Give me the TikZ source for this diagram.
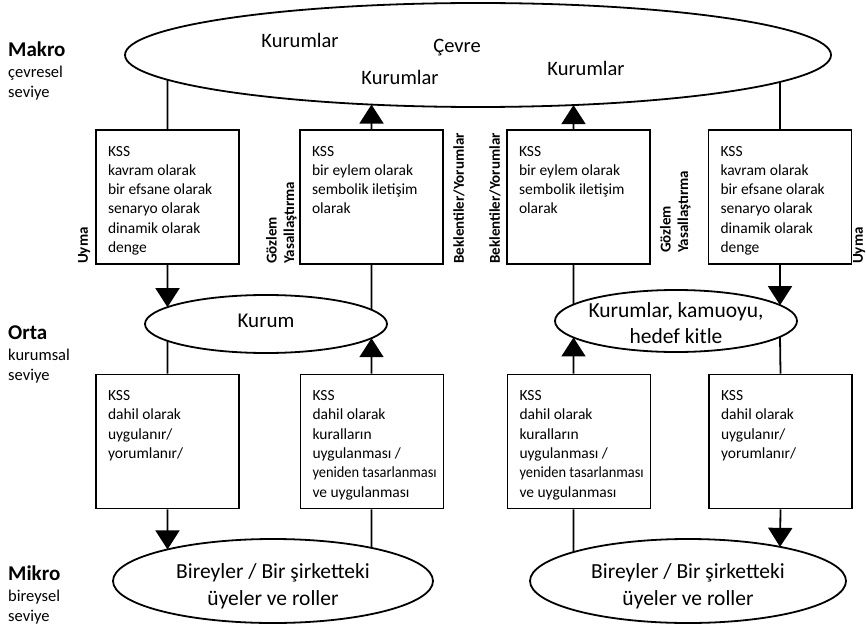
\documentclass[tikz,border=0pt]{standalone}
\usepackage{fontspec}
\setmainfont{Carlito}
\usepackage{graphicx}
\usetikzlibrary{shapes.geometric,arrows.meta,intersections,calc}
\newcommand\boxtxt[1]{\hspace*{12pt}\parbox[c][134pt][t]{131pt}{\vspace*{16pt}\raggedright #1}}
\begin{document}
\begin{tikzpicture}[x=1pt,y=1pt,
  ell/.style={draw, ellipse, inner sep=-15pt, align=center, line width=1.8pt},
  kbox/.style={draw, rectangle, inner sep=0pt, minimum width=143pt, minimum height=134pt, line width=1.8pt, font=\fontsize{15.5}{19.3}\selectfont},
  conn/.style={draw, line width=1.8pt},
  arr/.style={conn, -{Triangle[width=24pt,length=19pt]}},
  lvl/.style={anchor=north west, align=left, inner sep=0pt, font=\fontsize{16.5}{20.5}\selectfont},
  side/.style={rotate=90, anchor=north west, inner sep=0pt, align=left, font=\fontsize{15}{17.5}\selectfont\bfseries},
  envtxt/.style={anchor=base, inner sep=0pt, font=\fontsize{20.5}{24}\selectfont}
]
\useasboundingbox (0,0) rectangle (866,-628);

% ellipses
\node[ell, minimum width=706pt, minimum height=104pt] (env) at (478,-55) {};
\node[ell, minimum width=242pt, minimum height=58pt, font=\fontsize{21}{25}\selectfont] (k1) at (266,-324) {\rule[-7pt]{0pt}{7pt}Kurum};
\node[ell, minimum width=242pt, minimum height=62pt, font=\fontsize{21.5}{26}\selectfont] (k2) at (676,-321) {\rule{0pt}{20pt}Kurumlar, kamuoyu,\\hedef kitle};
\node[ell, minimum width=320pt, minimum height=84pt, font=\fontsize{21.5}{27}\selectfont] (m1) at (273,-581) {\rule{0pt}{26pt}Bireyler / Bir şirketteki\\üyeler ve roller};
\node[ell, minimum width=316pt, minimum height=84pt, font=\fontsize{21.5}{27}\selectfont] (m2) at (688,-581) {\rule{0pt}{26pt}Bireyler / Bir şirketteki\\üyeler ve roller};

% texts in the top ellipse
\node[envtxt] (t1) at (300,-48) {Kurumlar};
\node[envtxt] (t2) at (457,-53) {Çevre};
\node[envtxt] (t3) at (400,-85) {Kurumlar};
\node[envtxt] (t4) at (586,-76) {Kurumlar};

% boxes
\node[kbox] (b1) at (167.5,-197) {\boxtxt{KSS\\kavram olarak\\bir efsane olarak\\senaryo olarak\\dinamik olarak\\denge}};
\node[kbox] (b2) at (371.5,-197) {\boxtxt{KSS\\bir eylem olarak\\sembolik iletişim\\olarak}};
\node[kbox] (b3) at (578.5,-197) {\boxtxt{KSS\\bir eylem olarak\\sembolik iletişim\\olarak}};
\node[kbox] (b4) at (780,-197) {\boxtxt{KSS\\kavram olarak\\bir efsane olarak\\senaryo olarak\\dinamik olarak\\denge}};
\node[kbox] (b5) at (167.5,-441.5) {\boxtxt{KSS\\dahil olarak\\uygulanır/\\yorumlanır/}};
\node[kbox] (b6) at (372,-441.5) {\boxtxt{KSS\\dahil olarak\\kuralların\\uygulanması /\\\scalebox{0.93}[1]{yeniden tasarlanması}\\ve uygulanması}};
\node[kbox] (b7) at (579,-441.5) {\boxtxt{KSS\\dahil olarak\\kuralların\\uygulanması /\\\scalebox{0.93}[1]{yeniden tasarlanması}\\ve uygulanması}};
\node[kbox] (b8) at (780.5,-441.5) {\boxtxt{KSS\\dahil olarak\\uygulanır/\\yorumlanır/}};

% side labels
\node[side] (s1) at (78,-264) {Uyma};
\node[side] (s2) at (266,-264) {Gözlem\\Yasallaştırma};
\node[side] (s3) at (453,-264) {Beklentiler/Yorumlar};
\node[side] (s4) at (489,-264) {Beklentiler/Yorumlar};
\node[side] (s5) at (660,-253) {Gözlem\\Yasallaştırma};
\node[side] (s6) at (853,-264) {Uyma};

% level labels
\node[lvl] (lmakro) at (8,-42) {\textbf{\fontsize{21}{20.5}\selectfont Makro}\\çevresel\\seviye};
\node[lvl] (lorta) at (8,-326) {\textbf{\fontsize{21}{20.5}\selectfont Orta}\\kurumsal\\seviye};
\node[lvl] (lmikro) at (8,-566) {\textbf{\fontsize{21}{20.5}\selectfont Mikro}\\bireysel\\seviye};

% paths for intersections
\path[name path=envP] (env.center) ellipse [x radius=353pt, y radius=52pt];
\path[name path=k1P] (k1.center) ellipse [x radius=121pt, y radius=29pt];
\path[name path=k2P] (k2.center) ellipse [x radius=121pt, y radius=31pt];
\path[name path=m1P] (m1.center) ellipse [x radius=160pt, y radius=42pt];
\path[name path=m2P] (m2.center) ellipse [x radius=158pt, y radius=42pt];

\coordinate (x1) at (b1.north);
\coordinate (x2) at (b2.north);
\coordinate (x3) at ($(b3.north)+(-5,0)$);
\coordinate (x4) at (b4.north);
\path[name path=V1] ($(x1)+(0,200)$) -- ($(x1)+(0,-700)$);
\path[name path=V2] ($(x2)+(0,200)$) -- ($(x2)+(0,-700)$);
\path[name path=V3] ($(x3)+(0,200)$) -- ($(x3)+(0,-700)$);
\path[name path=V4] ($(x4)+(0,200)$) -- ($(x4)+(0,-700)$);

\path[name intersections={of=envP and V1, sort by=V1, by={e1a,e1b}}];
\path[name intersections={of=k1P and V1, sort by=V1, by={p1a,p1b}}];
\path[name intersections={of=m1P and V1, sort by=V1, by={q1a,q1b}}];
\path[name intersections={of=envP and V2, sort by=V2, by={e2a,e2b}}];
\path[name intersections={of=k1P and V2, sort by=V2, by={p2a,p2b}}];
\path[name intersections={of=m1P and V2, sort by=V2, by={q2a,q2b}}];
\path[name intersections={of=envP and V3, sort by=V3, by={e3a,e3b}}];
\path[name intersections={of=k2P and V3, sort by=V3, by={p3a,p3b}}];
\path[name intersections={of=m2P and V3, sort by=V3, by={q3a,q3b}}];
\path[name intersections={of=envP and V4, sort by=V4, by={e4a,e4b}}];
\path[name intersections={of=k2P and V4, sort by=V4, by={p4a,p4b}}];
\path[name intersections={of=m2P and V4, sort by=V4, by={q4a,q4b}}];

% connectors
\draw[conn] (e1b) -- (b1.north);
\draw[arr] (b1.south) -- (p1a);
\draw[conn] (p1b) -- (b5.north);
\draw[arr] (b5.south) -- (q1a);

\draw[arr] (b2.north) -- (e2b);
\draw[conn] (b2.south) -- (p2a);
\draw[arr] (x2 |- b6.north) -- (p2b);
\draw[conn] (x2 |- b6.south) -- (q2a);

\draw[arr] (x3) -- (e3b);
\draw[conn] (x3 |- b3.south) -- (p3a);
\draw[arr] (x3 |- b7.north) -- (p3b);
\draw[conn] (x3 |- b7.south) -- (q3a);

\draw[conn] (e4b) -- (b4.north);
\draw[arr] (b4.south) -- (p4a);
\draw[conn] (p4b) -- (b8.north);
\draw[arr] (b8.south) -- (q4a);
\end{tikzpicture}
\end{document}
